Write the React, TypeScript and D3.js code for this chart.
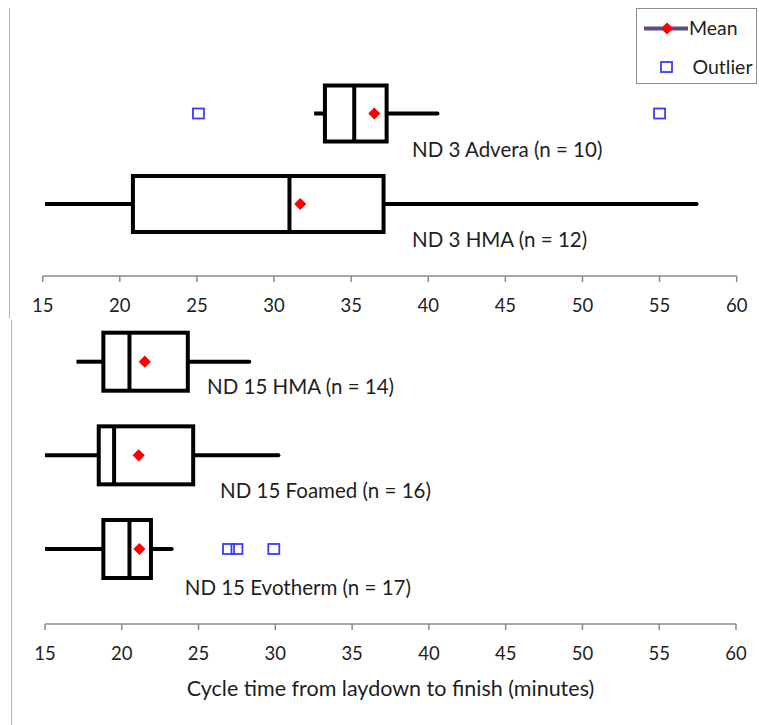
import React from "react";
import * as d3 from "d3";

// Cycle time (minutes) from laydown to finish, five-number summaries per section
const topCategories = ["ND 3 Advera (n = 10)", "ND 3 HMA (n = 12)"];
const topLow = [32.6, 15.15];
const topQ1 = [33.3, 20.85];
const topMedian = [35.2, 31.0];
const topQ3 = [37.3, 37.1];
const topHigh = [40.6, 57.4];
const topMean = [36.5, 31.7];
const topOutliers = [[25.1, 55.0], []];

const bottomCategories = ["ND 15 HMA (n = 14)", "ND 15 Foamed (n = 16)", "ND 15 Evotherm (n = 17)"];
const bottomLow = [17.05, 15.0, 15.0];
const bottomQ1 = [18.8, 18.5, 18.8];
const bottomMedian = [20.5, 19.5, 20.5];
const bottomQ3 = [24.3, 24.65, 21.9];
const bottomHigh = [28.3, 30.2, 23.25];
const bottomMean = [21.5, 21.1, 21.15];
const bottomOutliers = [[], [], [26.95, 27.5, 29.9]];

const tickValues = [15, 20, 25, 30, 35, 40, 45, 50, 55, 60];
const axisTitle = "Cycle time from laydown to finish (minutes)";
const legendItems = ["Mean", "Outlier"];

// Layout
const W = 759;
const H = 725;
const FONT = "Lato, 'Open Sans', 'DejaVu Sans', sans-serif";
const TEXT = "#1e1e1e";
const AXIS = "#8a8a8a";
const MEAN_RED = "#ff0000";
const OUTLIER_BLUE = "#3b3bff";
const LEGEND_LINE = "#5f4b80";
const TICK_SIZE = 18.5;
const LABEL_SIZE = 20.5;
const TITLE_SIZE = 21.5;
const LEGEND_SIZE = 19.5;

type Row = {
  label: string;
  low: number;
  q1: number;
  median: number;
  q3: number;
  high: number;
  mean: number;
  outliers: number[];
};

function buildRows(
  cats: string[],
  low: number[],
  q1: number[],
  median: number[],
  q3: number[],
  high: number[],
  mean: number[],
  outliers: number[][]
): Row[] {
  return cats.map((label, i) => ({
    label,
    low: low[i],
    q1: q1[i],
    median: median[i],
    q3: q3[i],
    high: high[i],
    mean: mean[i],
    outliers: outliers[i],
  }));
}

type PanelSpec = {
  rows: Row[];
  xRange: [number, number];
  yRange: [number, number];
  axisY: number;
  halfBox: number;
  // label anchor in minutes and vertical offset from the row centre
  labelAt: number[];
  labelDy: number[];
  border: { x: number; y0: number; y1: number };
  title?: boolean;
};

const diamond = d3.symbol(d3.symbolSquare, 74)() as string;

function Panel({ spec }: { spec: PanelSpec }) {
  const x = d3.scaleLinear().domain([15, 60]).range(spec.xRange);
  const y = d3
    .scalePoint<string>()
    .domain(spec.rows.map((r) => r.label))
    .range(spec.yRange);
  const [x0, x1] = spec.xRange;
  return (
    <g>
      <line
        x1={spec.border.x}
        x2={spec.border.x}
        y1={spec.border.y0}
        y2={spec.border.y1}
        stroke="#b4b4b4"
        strokeWidth={1}
      />
      {spec.rows.map((r, i) => {
        const cy = y(r.label) as number;
        const top = cy - spec.halfBox;
        const h = spec.halfBox * 2;
        return (
          <g key={r.label}>
            <line x1={x(r.low)} x2={x(r.q1)} y1={cy} y2={cy} stroke="#000" strokeWidth={4} />
            <line x1={x(r.q3)} x2={x(r.high)} y1={cy} y2={cy} stroke="#000" strokeWidth={4} strokeLinecap="round" />
            <rect
              x={x(r.q1)}
              y={top}
              width={x(r.q3) - x(r.q1)}
              height={h}
              fill="#fff"
              stroke="#000"
              strokeWidth={4}
            />
            <line x1={x(r.median)} x2={x(r.median)} y1={top} y2={top + h} stroke="#000" strokeWidth={4} />
            <path d={diamond} transform={`translate(${x(r.mean)},${cy}) rotate(45)`} fill={MEAN_RED} />
            {r.outliers.map((v, k) => (
              <rect
                key={k}
                x={x(v) - 5.5}
                y={cy - 5}
                width={11}
                height={10}
                fill="none"
                stroke={OUTLIER_BLUE}
                strokeWidth={1.8}
              />
            ))}
            <text
              x={x(spec.labelAt[i])}
              y={cy + spec.labelDy[i]}
              dy="0.35em"
              fontFamily={FONT}
              fontSize={LABEL_SIZE}
              fill={TEXT}
            >
              {r.label}
            </text>
          </g>
        );
      })}
      <line x1={x0} x2={x1} y1={spec.axisY} y2={spec.axisY} stroke={AXIS} strokeWidth={1.5} />
      {tickValues.map((t) => (
        <g key={t} transform={`translate(${x(t)},0)`}>
          <line y1={spec.axisY} y2={spec.axisY + 6} stroke={AXIS} strokeWidth={1.5} />
          <text
            y={spec.axisY + 30}
            dy="0.35em"
            textAnchor="middle"
            fontFamily={FONT}
            fontSize={TICK_SIZE}
            fill={TEXT}
          >
            {t}
          </text>
        </g>
      ))}
      {spec.title && (
        <text
          x={(x0 + x1) / 2}
          y={spec.axisY + 64}
          dy="0.35em"
          textAnchor="middle"
          fontFamily={FONT}
          fontSize={TITLE_SIZE}
          fill={TEXT}
        >
          {axisTitle}
        </text>
      )}
    </g>
  );
}

export default function App() {
  const topRows = buildRows(topCategories, topLow, topQ1, topMedian, topQ3, topHigh, topMean, topOutliers);
  const bottomRows = buildRows(
    bottomCategories,
    bottomLow,
    bottomQ1,
    bottomMedian,
    bottomQ3,
    bottomHigh,
    bottomMean,
    bottomOutliers
  );

  const topSpec: PanelSpec = {
    rows: topRows,
    xRange: [42.7, 736.7],
    yRange: [113.5, 204],
    axisY: 276,
    halfBox: 28,
    labelAt: [38.95, 38.95],
    labelDy: [36.5, 36],
    border: { x: 9.5, y0: 8, y1: 318 },
  };
  const bottomSpec: PanelSpec = {
    rows: bottomRows,
    xRange: [45, 736],
    yRange: [361.7, 549],
    axisY: 624,
    halfBox: 29,
    labelAt: [25.55, 26.4, 24.1],
    labelDy: [25, 35.5, 39],
    border: { x: 11.5, y0: 320, y1: 725 },
    title: true,
  };

  return (
    <svg
      width={W}
      height={H}
      viewBox={`0 0 ${W} ${H}`}
      style={{ position: "absolute", left: 0, top: 0, background: "#fff" }}
    >
      <rect width={W} height={H} fill="#fff" />
      <Panel spec={topSpec} />
      <Panel spec={bottomSpec} />
      {/* Legend */}
      <g>
        <rect x={636.5} y={8.5} width={120} height={75} fill="#fff" stroke="#8c8c8c" strokeWidth={1} />
        <line x1={644} x2={688} y1={28.5} y2={28.5} stroke={LEGEND_LINE} strokeWidth={4} />
        <path d={diamond} transform="translate(667,28.5) rotate(45)" fill={MEAN_RED} />
        <text x={689} y={28.5} dy="0.35em" fontFamily={FONT} fontSize={LEGEND_SIZE} fill={TEXT}>
          {legendItems[0]}
        </text>
        <rect x={661} y={62} width={11} height={10} fill="none" stroke={OUTLIER_BLUE} strokeWidth={1.8} />
        <text x={692.5} y={67} dy="0.35em" fontFamily={FONT} fontSize={LEGEND_SIZE} fill={TEXT}>
          {legendItems[1]}
        </text>
      </g>
    </svg>
  );
}
